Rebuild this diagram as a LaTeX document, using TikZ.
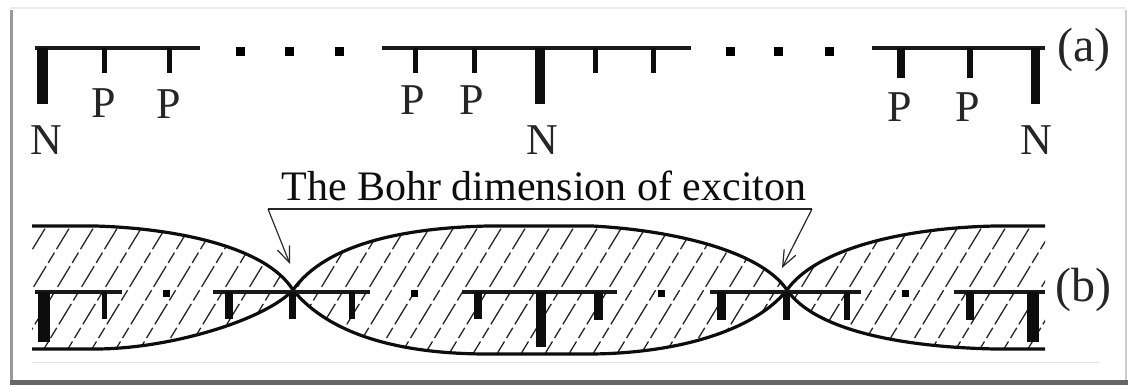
\documentclass[tikz,border=0pt]{standalone}
\usepackage{fontspec}
\setmainfont{Liberation Serif}
\usetikzlibrary{arrows.meta, positioning}

\begin{document}
\begin{tikzpicture}[
    x=1pt, y=-1pt,
    >={Straight Barb[length=16pt, width=13pt]}, % Open arrow tip
    chainline/.style={line width=4.5pt, black!90},
    hatchline/.style={line width=1.3pt, black!85, dash pattern=on 24pt off 4pt on 12pt off 4pt},
    lensline/.style={line width=3.2pt, black!95},
    dotmark/.style={fill=black, inner sep=0pt, minimum size=9pt},
    lbl/.style={font=\fontsize{44}{44}\selectfont, black!85, inner sep=0pt},
    rowlbl/.style={font=\fontsize{48}{48}\selectfont, black!85, inner sep=0pt},
    caption/.style={font=\fontsize{42}{42}\selectfont, black!95, inner sep=0pt}
]
    \useasboundingbox (0,0) rectangle (1128,386);

    % Frame with its shadow
    \fill[white] (0,0) rectangle (1128,386);
    \draw[line width=1.5pt, black!8] (10,8) -- (1126,8);
    \draw[line width=3pt, black!40] (11,10) -- (11,380);
    \draw[line width=2pt, black!20] (1126,10) -- (1126,380);
    \draw[line width=5pt, black!60] (10,382) -- (1128,382);
    \draw[line width=1pt, black!10] (32,362) -- (1100,362);

    % Row (a)
    \draw[chainline] (35,48) -- (200,48);
    \draw[chainline] (382,48) -- (691,48);
    \draw[chainline] (872,48) -- (1045,48);
    \foreach \x/\w/\e in {42/11/104, 104/5/73, 169/5/73, 415/5/73, 474/5/73, 540/10/104,
                          595/5/73, 653/5/73, 901/8/78, 970/6/78, 1035/9/104}
        \draw[black!95, line width=\w pt] (\x,48) -- (\x,\e);
    \foreach \x [count=\i] in {240, 289, 339, 730, 778, 829}
        \node[dotmark] (dota\i) at (\x,51) {};

    % Labels of row (a)
    \foreach \x/\y/\t [count=\i] in {46/140/N, 104/103/P, 169/104/P, 413/100/P, 472/100/P,
                                     542/140/N, 900/107/P, 968/107/P, 1036/140/N}
        \node[lbl] (site\i) at (\x,\y) {\t};
    \node[rowlbl] (rowa) at (1084,50) {(a)};

    % Necks of the lenses
    \coordinate (neckl) at (293,290);
    \coordinate (neckr) at (787,290);

    % Hatching inside the lenses
    \begin{scope}
        \clip (32,226) -- (95,226) .. controls (170,228) and (265,245) .. (neckl)
              .. controls (265,320) and (170,349) .. (95,349) -- (32,349) -- cycle
              (neckl) .. controls (325,245) and (400,228) .. (488,226) -- (592,226)
              .. controls (670,230) and (760,250) .. (neckr)
              .. controls (755,330) and (680,353) .. (592,354) -- (488,354)
              .. controls (400,354) and (330,335) .. (neckl)
              (neckr) .. controls (815,250) and (900,228) .. (995,226) -- (1045,226)
              -- (1045,349) -- (995,349) .. controls (900,347) and (815,330) .. (neckr);
        \foreach \x in {-60,-36,...,1060}
            \draw[hatchline] (\x,362) -- (\x+85,222);
    \end{scope}

    % Lens outlines
    \draw[lensline] (32,226) -- (95,226) .. controls (170,228) and (265,245) .. (neckl)
        .. controls (265,320) and (170,349) .. (95,349) -- (32,349);
    \draw[lensline] (neckl) .. controls (325,245) and (400,228) .. (488,226) -- (592,226)
        .. controls (670,230) and (760,250) .. (neckr)
        .. controls (755,330) and (680,353) .. (592,354) -- (488,354)
        .. controls (400,354) and (330,335) .. (neckl);
    \draw[lensline] (1045,226) -- (995,226) .. controls (900,228) and (815,250) .. (neckr)
        .. controls (815,330) and (900,347) .. (995,349) -- (1045,349);

    % Row (b)
    \draw[chainline, line width=4pt] (35,292) -- (122,292);
    \draw[chainline, line width=4pt] (213,292) -- (370,292);
    \draw[chainline, line width=4pt] (462,292) -- (617,292);
    \draw[chainline, line width=4pt] (710,292) -- (861,292);
    \draw[chainline, line width=4pt] (954,292) -- (1045,292);
    \foreach \x/\w/\e in {44/12/342, 104/5/319, 229/8/319, 292/7/319, 352/6/319, 478/8/319,
                          541/10/347, 598/9/320, 721/9/320, 786/7/320, 847/6/320, 970/8/320, 1033/12/342}
        \draw[black!95, line width=\w pt] (\x,292) -- (\x,\e);
    \foreach \x [count=\i] in {166, 414, 661, 905}
        \node[dotmark, minimum size=7pt] (dotb\i) at (\x,293) {};
    \node[rowlbl] (rowb) at (1083,290) {(b)};

    % Caption with its two arrows
    \node[caption] (bohr) at (544,186) {The Bohr dimension of exciton};
    \coordinate (bracl) at (268,209);
    \coordinate (bracr) at (812,209);
    \coordinate (tipl) at (290,264);
    \coordinate (tipr) at (782,268);
    \draw[line width=2pt, black!85] (bracl) -- (bracr);
    \draw[->, line width=1.2pt, black!85] (bracl) -- (tipl);
    \draw[->, line width=1.2pt, black!85] (bracr) -- (tipr);

\end{tikzpicture}
\end{document}
